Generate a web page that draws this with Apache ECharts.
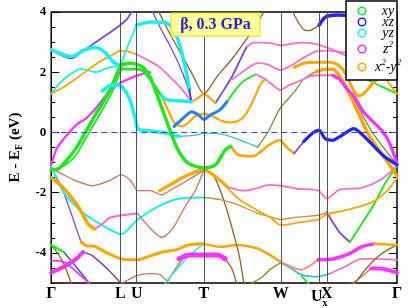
<!DOCTYPE html>
<html><head><meta charset="utf-8">
<script src="https://cdn.jsdelivr.net/npm/echarts@6/dist/echarts.min.js"></script>
<style>html,body{margin:0;padding:0;background:#fff}#c{width:415px;height:308px}</style>
</head><body><div id="c"></div>
<script>
// ---- k-path (arbitrary path units) and tick labels ----
const kTicks = [0, 72, 89, 159, 239, 279, 287, 360];
const kLabels = ['Γ', 'L', 'U', 'T', 'W', 'Ux', 'X', 'Γ'];
const eTicks = [-4, -2, 0, 2, 4];
const orbitals = ['xy', 'xz', 'yz', 'z2', 'x2-y2'];
const titleText = 'β, 0.3 GPa';

// ---- band strokes: [k, E(eV)] ----
const u_purple1 = [[0,2.75],[11,2.56],[21,2.46],[31,2.66],[43,2.92],[58,3.25],[72,3.57],[79,3.77],[86,4.13]];
const u_cyanHump = [[0,2.75],[10,2.62],[21,2.52],[33,2.72],[46,2.82],[56,2.66],[64,2.36],[72,2.2]];
const u_cyanThin = [[0,1.28],[8,1.61],[16,1.84],[23,2.0],[30,2.1],[38,2.07],[46,2.0],[53,2.07],[60,2.16],[72,2.2]];
const u_orangeGL = [[0,1.28],[13,1.51],[25,1.77],[38,2.07],[51,2.36],[63,2.56],[72,2.72],[80,2.69],[89,2.59]];
const u_pinkUT = [[89,2.59],[103,2.36],[113,2.16],[126,1.77],[136,1.44],[146,1.02]];
const u_cyanLU = [[72,2.2],[80,2.89],[89,3.57]];
const u_cyanTop = [[89,3.57],[103,3.67],[120,3.64],[129,3.31],[136,2.66],[141,1.93],[144,1.44]];
const u_blueDrop = [[144,1.44],[146,1.02]];
const u_purpleTop = [[104,4.13],[113,3.51],[123,2.92],[133,2.26],[141,1.61],[146,1.02]];
const u_vT = [[110,4.13],[123,3.31],[135,2.62],[147,1.93],[159,1.28],[173,1.87],[188,2.43],[203,3.08],[215,3.67],[223,4.07]];
const u_wT = [[146,1.02],[153,1.15],[159,1.28],[165,1.15],[171,0.98]];
const u_riseP = [[171,0.98],[179,1.38],[188,1.84],[196,2.36],[203,2.82]];
const u_pinkHigh = [[203,2.82],[211,2.98],[221,2.98],[231,2.95],[239,2.89],[251,2.95],[263,2.98],[278,2.92],[293,2.75],[308,2.56],[323,2.69],[343,2.75],[360,2.75]];
const u_pinkW2 = [[189,1.77],[203,2.10],[215,2.30],[225,2.26],[239,2.07],[250,2.23],[260,2.43],[276,2.69],[290,2.72],[303,2.66],[318,2.75]];
const u_orangeX = [[243,4.26],[250,4.07],[257,3.67],[263,3.41],[269,3.38],[275,3.48],[279,3.57]];
const u_blueX = [[279,3.57],[286,3.84],[298,3.90],[310,3.87],[323,3.67],[335,3.15]];
const u_orangeXa = [[253,2.16],[263,2.30],[276,2.33],[289,2.33],[299,2.23],[307,1.93],[313,1.51],[320,1.21],[327,1.34],[335,1.64],[343,1.84]];
const u_orangeXb = [[276,2.03],[287,2.10],[293,2.10],[308,1.44],[321,0.56],[331,-0.10],[345,-0.75],[360,-1.44]];
const u_greenXG = [[298,2.03],[313,1.25],[325,0.52],[335,-0.03],[348,-0.59],[360,-1.08]];
const u_magWleft = [[183,1.02],[191,1.38],[200,1.70],[213,1.93]];
const u_magW = [[213,1.93],[223,1.77],[231,1.57],[238,1.41],[248,1.57],[258,1.70],[270,1.87],[283,1.90],[293,1.90]];
const u_magXG = [[293,1.90],[300,1.77],[308,1.44],[315,1.21],[325,0.69],[335,0.36],[345,0.03],[353,-0.4],[360,-1.05]];
const u_tealRise = [[215,-0.49],[226,0.03],[238,0.79],[253,1.34],[263,1.77],[276,2.03]];
const u_cyanE0 = [[53,1.38],[60,1.54],[68,1.57],[73,1.54],[79,1.28],[83,0.98],[87,0.52],[90,0.13],[95,0.07],[108,0.03],[121,-0.03],[133,-0.13]];
const u_tealE0 = [[133,-0.13],[148,-0.10],[159,-0.03],[171,-0.03],[183,-0.10],[200,-0.30],[215,-0.49]];
const u_blueM = [[128,0.2],[138,0.49],[146,0.69],[153,0.59],[159,0.43],[166,0.59],[171,0.66],[177,0.79],[183,1.02]];
const u_orangeW2 = [[115,1.21],[121,0.79],[128,0.33],[136,0.20],[143,0.33],[149,0.52],[159,0.62],[169,0.52],[177,0.39],[185,0.33],[195,0.39],[203,0.62],[211,1.11],[218,1.61],[223,1.77]];
const u_cyanFlat = [[115,1.21],[121,1.08],[133,1.05],[146,1.02]];
const u_green2 = [[72,2.10],[89,2.10],[96,2.03],[108,1.54],[115,1.21]];
const u_pinkG = [[0,-1.08],[6,-0.52],[16,-0.10],[28,0.30],[36,0.46],[46,0.79],[60,1.34],[70,1.61],[80,1.77],[93,1.93],[103,2.0]];
const u_greenBig = [[72,2.23],[81,2.30],[89,2.26],[96,2.16],[103,1.84],[111,1.18],[121,0.30],[131,-0.52],[139,-0.92],[146,-1.08],[159,-1.18],[171,-1.08],[181,-0.59],[187,-0.46]];
const u_greenG1 = [[0,-1.25],[8,-1.20],[18,-0.85],[26,-0.52],[36,0.03],[46,0.59],[60,1.34],[72,2.23]];
const u_greenG2 = [[0,-1.25],[13,-1.11],[25,-0.79],[33,-0.36],[42,0.13],[51,0.62],[64,1.38],[75,2.30]];
const u_orangeTW = [[187,-0.46],[195,-0.75],[210,-0.79],[219,-0.62],[226,-0.43],[238,-0.26],[246,-0.52],[253,-0.69]];
const u_purpleUx = [[253,-0.69],[263,-0.30]];
const u_blueE0 = [[263,-0.30],[273,0.0],[279,0.07],[285,-0.20],[293,-0.26],[301,-0.13],[315,0.13],[328,-0.20],[345,-0.75],[360,-1.08]];
const u_greenR = [[313,2.03],[328,1.77],[343,1.54],[360,1.28]];
const u_orangeR = [[343,2.0],[360,1.28]];

const l_orangeThick = [[0,-1.51],[8,-1.70],[18,-2.03],[30,-2.56],[38,-3.02],[45,-3.21]];
const l_pinkRise = [[45,-3.21],[53,-3.05],[60,-2.85],[73,-2.75],[90,-2.69]];
const l_brownV = [[90,-2.69],[103,-3.18],[115,-3.48],[126,-3.21],[140,-2.43],[150,-1.93],[159,-1.25]];
const l_cyan = [[0,-1.11],[13,-2.0],[33,-2.66],[53,-3.08],[73,-3.38],[90,-2.89],[113,-2.43],[133,-2.2],[159,-2.16]];
const l_tw = [[159,-2.16],[176,-2.23],[193,-2.39],[213,-2.66],[226,-2.79],[239,-2.89],[253,-2.82],[278,-2.75],[287,-2.66]];
const l_vXp = [[287,-2.66],[300,-3.31],[311,-3.64]];
const l_vXg = [[311,-3.64],[323,-3.05],[336,-2.39],[348,-1.67],[360,-1.11]];
const l_brownThin = [[0,-1.18],[13,-1.41],[26,-1.61],[43,-1.77],[60,-1.61],[73,-1.41],[83,-1.61],[90,-1.93],[103,-1.93],[115,-2.07],[125,-1.90],[143,-1.57],[159,-1.25]];
const l_orangeTL = [[113,-1.93],[126,-1.70],[136,-1.51],[148,-1.34],[159,-1.21]];
const l_orangeTR = [[159,-1.21],[170,-1.44],[183,-1.80]];
const l_pinkMid = [[183,-1.80],[200,-1.93],[216,-1.84],[226,-1.74],[239,-1.77],[256,-1.87],[278,-1.93],[287,-2.20],[300,-1.90],[323,-1.84],[343,-1.57],[360,-1.11]];
const l_orangeThin = [[159,-1.21],[173,-1.51],[185,-1.90],[196,-2.23],[213,-2.56],[228,-2.82],[239,-3.08],[260,-2.98],[278,-2.89],[287,-2.72],[306,-2.59],[333,-2.33],[350,-1.93],[360,-1.51]];
const l_plunge = [[159,-1.21],[168,-1.38],[175,-1.84],[183,-2.59],[190,-3.38],[196,-4.13],[201,-5.11]];
const l_purpleSteep = [[0,-1.18],[6,-1.51],[13,-2.0],[23,-2.89],[31,-3.64]];
const l_orangeL = [[31,-3.64],[38,-3.77],[43,-3.77],[58,-4.0],[73,-4.20],[90,-4.23],[103,-4.10],[116,-3.97],[130,-3.90],[143,-3.74],[159,-3.70]];
const l_orangeTW2 = [[159,-3.70],[176,-3.80],[193,-3.74],[216,-3.87],[239,-4.30]];
const l_pinkOW = [[239,-4.30],[260,-4.56],[278,-4.23]];
const l_magThickX = [[278,-4.23],[293,-4.20],[310,-4.03],[323,-3.80],[336,-3.70]];
const l_orangeGR = [[336,-3.70],[360,-3.74]];
const l_magT = [[133,-4.20],[143,-4.07],[159,-4.07],[173,-4.07],[181,-4.20]];
const l_darkTl = [[120,-5.02],[130,-4.5],[140,-4.07]];
const l_darkTr = [[181,-4.20],[188,-4.52],[193,-5.02]];
const l_cyanT = [[118,-5.02],[133,-4.46],[148,-3.97],[159,-3.70]];
const l_magG = [[0,-4.66],[13,-4.46],[26,-4.2],[33,-3.97]];
const l_darkG = [[33,-3.97],[43,-4.10],[58,-4.52],[73,-5.02]];
const l_pinkG = [[0,-4.26],[13,-4.30],[26,-4.62],[40,-5.02]];
const l_greenG = [[0,-3.74],[13,-3.97]];
const l_blueG = [[13,-3.97],[26,-4.46],[40,-5.02]];
const l_orDotG = [[0,-3.74],[8,-4.07],[15,-4.52],[21,-5.02]];
const l_botL = [[73,-5.02],[90,-4.75],[103,-4.69],[113,-4.72],[123,-5.02]];
const l_Wgreen = [[208,-5.02],[220,-4.79],[229,-4.52],[239,-4.33]];
const l_Wcyan = [[239,-4.33],[250,-4.52],[260,-4.72],[278,-4.79],[290,-4.69]];
const l_Xpink = [[290,-4.69],[306,-4.46],[323,-4.20],[338,-4.20],[360,-4.23]];
const l_darkR1 = [[313,-5.02],[323,-4.79],[333,-4.52]];
const l_magR = [[333,-4.52],[343,-4.52],[353,-4.59],[360,-4.66]];
const l_darkR2 = [[316,-5.02],[328,-4.52],[340,-4.13],[350,-3.90],[360,-3.74]];
const l_greenUx = [[261,-4.79],[268,-5.02]];

// ---- styles (kept apart from the data) ----
const COL = {
  xy: '#22e622', xz: '#2222ff', yz: '#19f0f5', z2: '#ff33ff', x2: '#ffa500',
  purple: '#7a4ad8', pink: '#ff6ccc', brown: '#c0785e', dark: '#8a6428',
  teal: '#34c4c4', olive: '#7d8a2a', blueC: '#2a7dff', gold: '#c89040',
  plum: '#8a3a6a', navy: '#3a4ab0', salmon: '#ff8a80'
};
const strokes = [
  [l_botL,'brown',1.3],[l_darkG,'plum',1.3],[l_orDotG,'dark',1.3],[l_blueG,'navy',1.3],
  [l_darkTl,'brown',1.3],[l_darkTr,'dark',1.3],[l_cyanT,'yz',1.3],[l_Wgreen,'olive',1.3],
  [l_Wcyan,'teal',1.8],[l_Xpink,'pink',1.8],[l_darkR1,'brown',1.3],[l_darkR2,'dark',1.3],[l_greenUx,'xy',1.8],
  [l_pinkG,'z2',1.8],[l_greenG,'xy',2.5],[l_magG,'z2',4],[l_magR,'z2',4],
  [l_purpleSteep,'purple',1.3],[l_orangeL,'x2',3],[l_orangeTW2,'x2',2.5],[l_pinkOW,'salmon',1.8],
  [l_magThickX,'z2',3.5],[l_orangeGR,'x2',2.5],[l_magT,'z2',5],[l_plunge,'dark',1.3],
  [l_tw,'gold',1.3],[l_vXp,'purple',1.8],[l_vXg,'xy',2],[l_orangeThin,'x2',1.8],
  [l_brownThin,'brown',1.3],[l_cyan,'yz',2],[l_brownV,'brown',1.3],[l_pinkRise,'pink',2],
  [l_orangeThick,'x2',3.5],[l_pinkMid,'pink',1.8],[l_orangeTL,'x2',3.2],[l_orangeTR,'x2',3.2],
  [u_purple1,'purple',1.8],[u_cyanThin,'yz',1.8],[u_orangeGL,'x2',1.8],[u_pinkUT,'pink',1.8],
  [u_cyanLU,'yz',1.8],[u_purpleTop,'purple',1.3],[u_vT,'dark',1.3],[u_pinkHigh,'pink',1.8],
  [u_pinkW2,'pink',1.8],[u_orangeX,'dark',1.3],[u_riseP,'purple',1.8],
  [u_tealE0,'teal',1.3],[u_tealRise,'olive',1.3],[u_greenXG,'olive',1.3],
  [u_orangeW2,'x2',2.2],[u_wT,'x2',2.2],[u_magWleft,'xy',1.8],[u_magW,'pink',1.8],
  [u_orangeTW,'x2',2.5],[u_purpleUx,'purple',1.8],[u_greenR,'xy',1.8],[u_orangeR,'x2',1.8],
  [u_pinkG,'z2',2.2],[u_greenG2,'xy',1.8],[u_greenG1,'xy',3.5],[u_green2,'xy',2.8],
  [u_cyanHump,'yz',3.5],[u_cyanTop,'yz',3.5],[u_blueDrop,'xz',1.3],[u_cyanFlat,'yz',3.5],
  [u_cyanE0,'yz',3.5],[u_blueM,'blueC',3],[u_greenBig,'xy',3.5],
  [u_orangeXa,'x2',3],[u_orangeXb,'x2',3.5],[u_magXG,'z2',3.2],[u_blueE0,'xz',3.2],[u_blueX,'xz',3.5]
];

const SERIF = '"Liberation Serif","DejaVu Serif",serif';
const series = strokes.map(([d, c, w]) => ({
  type: 'line', data: d, showSymbol: false, smooth: 0.25, silent: true,
  lineStyle: { color: COL[c], width: w, cap: 'round', join: 'round' }, z: 3
}));
series.push({
  type: 'line', data: [], silent: true, z: 2,
  markLine: {
    symbol: ['none', 'none'], silent: true, label: { show: false },
    data: kTicks.slice(1, -1).map(k => ({ xAxis: k, lineStyle: { color: '#555', width: 1, type: 'solid' } }))
      .concat([{ yAxis: 0, lineStyle: { color: '#3340ff', width: 1.2, type: [6, 4] } }])
  }
});

const halfTicks = [];
for (let v = -5; v <= 4.001; v += 0.5) halfTicks.push(+v.toFixed(1));
const yBase = { type: 'value', min: -5, max: 4, axisLine: { show: false }, splitLine: { show: false } };

const legendG = [{ type: 'rect', shape: { x: 346, y: 1, width: 51, height: 79 },
  style: { fill: '#fff', stroke: '#000', lineWidth: 1.5 }, z: 100 }];
const legendY = [11, 22, 33, 49, 67];
const legendCol = ['xy', 'xz', 'yz', 'z2', 'x2'];
const legendRich = (s) => s === 'z2' ? '{i|z}{s|2}' : s === 'x2-y2' ? '{i|x}{s|2}{i|-y}{s|2}' : '{i|' + s + '}';
orbitals.forEach((o, i) => {
  legendG.push({ type: 'circle', shape: { cx: 362, cy: legendY[i], r: 3.8 },
    style: { fill: 'none', stroke: COL[legendCol[i]], lineWidth: 1.5 }, z: 101 });
  legendG.push({ type: 'text', x: 388, y: legendY[i], z: 101,
    style: { text: legendRich(o), align: 'center', verticalAlign: 'middle',
      rich: { i: { fontFamily: SERIF, fontStyle: 'italic', fontSize: 14, fill: '#000' },
              s: { fontFamily: SERIF, fontStyle: 'italic', fontSize: 9, fill: '#000', padding: [0, 0, 9, 0] } } } });
});

const chart = echarts.init(document.getElementById('c'), null, { renderer: 'canvas' });
chart.setOption({
  animation: false,
  backgroundColor: '#fff',
  grid: { left: 37, right: 18, top: 12, bottom: 22, show: true, borderColor: '#000', borderWidth: 1.5, backgroundColor: 'transparent' },
  xAxis: {
    type: 'value', min: 0, max: 360, axisLine: { show: false }, axisTick: { show: false }, splitLine: { show: false },
    axisLabel: {
      customValues: kTicks, margin: 3,
      formatter: (v) => { const i = kTicks.indexOf(v); const s = kLabels[i];
        return s === 'Ux' ? '{b|U}{s|x}' : '{b|' + s + '}'; },
      rich: { b: { fontFamily: SERIF, fontWeight: 'bold', fontSize: 16, color: '#000' },
              s: { fontFamily: SERIF, fontWeight: 'bold', fontSize: 10, color: '#000', padding: [12, 0, 0, 0] } }
    }
  },
  yAxis: [
    Object.assign({}, yBase, {
      position: 'left', name: '{b|E - E}{s|F}{b| (eV)}', nameLocation: 'middle', nameGap: 20, nameRotate: 90,
      nameTextStyle: { rich: { b: { fontFamily: SERIF, fontWeight: 'bold', fontSize: 15, color: '#000' },
                               s: { fontFamily: SERIF, fontWeight: 'bold', fontSize: 10, color: '#000', padding: [8, 0, 0, 0] } } },
      axisTick: { show: true, inside: true, length: 4, customValues: halfTicks, lineStyle: { color: '#000', width: 1 } },
      axisLabel: { customValues: eTicks, margin: 5, fontFamily: SERIF, fontWeight: 'bold', fontSize: 13, color: '#000' }
    }),
    Object.assign({}, yBase, { position: 'left', axisLabel: { show: false },
      axisTick: { show: true, inside: true, length: 8, customValues: eTicks, lineStyle: { color: '#000', width: 1 } } }),
    Object.assign({}, yBase, { position: 'right', axisLabel: { show: false },
      axisTick: { show: true, inside: true, length: 4, customValues: halfTicks, lineStyle: { color: '#000', width: 1 } } }),
    Object.assign({}, yBase, { position: 'right', axisLabel: { show: false },
      axisTick: { show: true, inside: true, length: 8, customValues: eTicks, lineStyle: { color: '#000', width: 1 } } })
  ],
  graphic: [
    { type: 'rect', shape: { x: 171, y: 13, width: 89, height: 23 },
      style: { fill: '#ffff99', stroke: '#e0e000', lineWidth: 1 }, z: 100 },
    { type: 'text', x: 215.5, y: 25, z: 101,
      style: { text: titleText, align: 'center', verticalAlign: 'middle',
        font: 'bold 16px ' + SERIF, fill: '#2323d0' } }
  ].concat(legendG),
  series: series
});
</script>
</body></html>
